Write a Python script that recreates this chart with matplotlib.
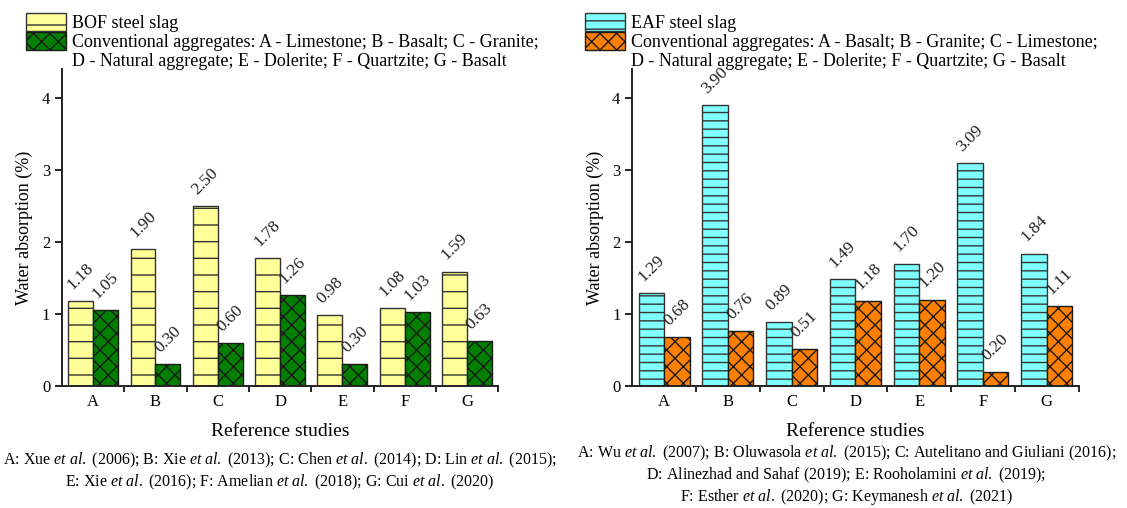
import numpy as np
import matplotlib
matplotlib.use("Agg")
import matplotlib.pyplot as plt
from matplotlib.patches import Patch

plt.rcParams['font.family'] = ['Liberation Serif', 'DejaVu Serif']
plt.rcParams['mathtext.fontset'] = 'custom'
plt.rcParams['mathtext.rm'] = 'Liberation Serif'
plt.rcParams['mathtext.it'] = 'Liberation Serif:italic'
plt.rcParams['hatch.linewidth'] = 1.0

studies = ['A', 'B', 'C', 'D', 'E', 'F', 'G']

bof_slag = [1.18, 1.90, 2.50, 1.78, 0.98, 1.08, 1.59]
bof_conv = [1.05, 0.30, 0.60, 1.26, 0.30, 1.03, 0.63]

eaf_slag = [1.29, 3.90, 0.89, 1.49, 1.70, 3.09, 1.84]
eaf_conv = [0.68, 0.76, 0.51, 1.18, 1.20, 0.20, 1.11]

bof_labels = ['BOF steel slag',
              'Conventional aggregates: A - Limestone; B - Basalt; C - Granite;',
              'D - Natural aggregate; E - Dolerite; F - Quartzite; G - Basalt']
eaf_labels = ['EAF steel slag',
              'Conventional aggregates: A - Basalt; B - Granite; C - Limestone;',
              'D - Natural aggregate; E - Dolerite; F - Quartzite; G - Basalt']

bof_refs = (r'A: Xue $\it{et\ al.}$ (2006); B: Xie $\it{et\ al.}$ (2013); '
            r'C: Chen $\it{et\ al.}$ (2014); D: Lin $\it{et\ al.}$ (2015);' '\n'
            r'E: Xie $\it{et\ al.}$ (2016); F: Amelian $\it{et\ al.}$ (2018); '
            r'G: Cui $\it{et\ al.}$ (2020)')
eaf_refs = (r'A: Wu $\it{et\ al.}$ (2007); B: Oluwasola $\it{et\ al.}$ (2015); '
            r'C: Autelitano and Giuliani (2016);' '\n'
            r'D: Alinezhad and Sahaf (2019); E: Rooholamini $\it{et\ al.}$ (2019);' '\n'
            r'F: Esther $\it{et\ al.}$ (2020); G: Keymanesh $\it{et\ al.}$ (2021)')


def draw_panel(ax, slag, conv, c_slag, h_slag, c_conv):
    x = np.arange(1, len(studies) + 1)
    w = 0.4
    b1 = ax.bar(x - w / 2, slag, w, color=c_slag, edgecolor='#333333',
                hatch=h_slag, linewidth=1.0)
    b2 = ax.bar(x + w / 2, conv, w, color=c_conv, edgecolor='#1a1a1a',
                hatch='xx', linewidth=1.0)
    for bars, vals in ((b1, slag), (b2, conv)):
        for r, v in zip(bars, vals):
            ax.annotate('%.2f' % v, (r.get_x() + r.get_width() / 2, v),
                        xytext=(0, 6), textcoords='offset points',
                        ha='center', va='bottom', rotation=45, fontsize=12.5,
                        color='#222222')
    ax.set_xlim(0.5, 7.5)
    ax.set_ylim(0, 4.4)
    ax.set_yticks([0, 1, 2, 3, 4])
    ax.set_xticks(np.arange(1.5, 7.6, 1.0))
    ax.set_xticklabels([])
    ax.set_xticks(x, minor=True)
    ax.set_xticklabels(studies, minor=True)
    ax.tick_params(axis='x', which='minor', length=0, pad=6, labelsize=12)
    ax.tick_params(axis='x', which='major', length=4, width=1.2, direction='out')
    ax.tick_params(axis='y', length=5, width=1.2, labelsize=12, direction='out')
    ax.spines['top'].set_visible(False)
    ax.spines['right'].set_visible(False)
    for s in ('left', 'bottom'):
        ax.spines[s].set_linewidth(1.4)
        ax.spines[s].set_color('#222222')
    ax.set_xlabel('Reference studies', fontsize=14, labelpad=9)
    ax.set_ylabel('Water absorption (%)', fontsize=13, labelpad=6)
    handles = [Patch(facecolor=c_slag, edgecolor='#333333', hatch=h_slag),
               Patch(facecolor=c_conv, edgecolor='#1a1a1a', hatch='xx'),
               Patch(facecolor='none', edgecolor='none')]
    return handles


fig = plt.figure(figsize=(11.27, 5.08), dpi=100)
ax1 = fig.add_axes([0.055, 0.240, 0.387, 0.624])
ax2 = fig.add_axes([0.561, 0.240, 0.396, 0.624])

h1 = draw_panel(ax1, bof_slag, bof_conv, '#FFFF99', '-', '#007F00')
h2 = draw_panel(ax2, eaf_slag, eaf_conv, '#80FFFF', '--', '#FF8000')

leg_kw = dict(loc='upper left', frameon=False, fontsize=13, handlelength=2.2,
              handleheight=1.15, labelspacing=0.0, handletextpad=0.35,
              borderaxespad=0.3)
fig.legend(h1, bof_labels, bbox_to_anchor=(0.012, 1.0), **leg_kw)
fig.legend(h2, eaf_labels, bbox_to_anchor=(0.508, 1.0), **leg_kw)

fig.text(0.248, 0.072, bof_refs, ha='center', va='center', fontsize=11.5,
         linespacing=1.2)
fig.text(0.751, 0.064, eaf_refs, ha='center', va='center', fontsize=11.5,
         linespacing=1.2)

plt.savefig('out.png', dpi=100)
